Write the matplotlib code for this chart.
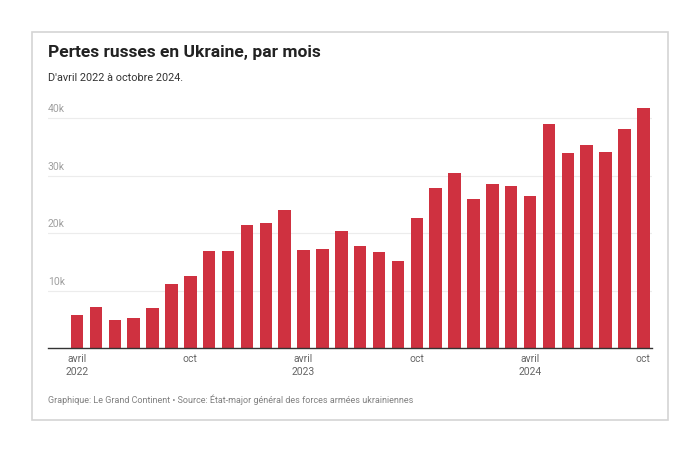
import numpy as np
import matplotlib

matplotlib.use("Agg")
import matplotlib.pyplot as plt
from matplotlib.patches import Rectangle

# Monthly Russian losses, April 2022 -> October 2024
months = [
    "2022-04", "2022-05", "2022-06", "2022-07", "2022-08", "2022-09",
    "2022-10", "2022-11", "2022-12", "2023-01", "2023-02", "2023-03",
    "2023-04", "2023-05", "2023-06", "2023-07", "2023-08", "2023-09",
    "2023-10", "2023-11", "2023-12", "2024-01", "2024-02", "2024-03",
    "2024-04", "2024-05", "2024-06", "2024-07", "2024-08", "2024-09",
    "2024-10",
]
losses = [
    5800, 7200, 5000, 5200, 7000, 11100,
    12600, 17000, 17000, 21500, 21700, 24000,
    17100, 17300, 20400, 17800, 16800, 15100,
    22700, 27900, 30400, 26000, 28500, 28300,
    26500, 39000, 33900, 35400, 34100, 38100,
    41800,
]
tick_idx = [0, 6, 12, 18, 24, 30]
tick_labels = ["avril\n2022", "oct", "avril\n2023", "oct", "avril\n2024", "oct"]
y_ticks = [10000, 20000, 30000, 40000]
y_labels = ["10k", "20k", "30k", "40k"]

W, H = 700, 450
fig = plt.figure(figsize=(7, 4.5), dpi=100)
fig.patch.set_facecolor("white")

# card behind the chart
card = Rectangle((32 / W, 1 - 420 / H), 636 / W, 388 / H,
                 transform=fig.transFigure, facecolor="white",
                 edgecolor="#d4d4d4", linewidth=1.2, zorder=-5)
fig.add_artist(card)

ax = fig.add_axes([48 / W, 1 - 348.3 / H, 604 / W, 247.3 / H])
ax.set_facecolor("none")

x = np.arange(len(losses))
ax.bar(x, losses, width=0.66, color="#cf3140", zorder=3)

ax.set_xlim(-1.54, 30.46)
ax.set_ylim(0, 43000)

for s in ["top", "right", "left"]:
    ax.spines[s].set_visible(False)
ax.spines["bottom"].set_color("#333333")
ax.spines["bottom"].set_linewidth(1.0)
ax.spines["bottom"].set_zorder(4)

ax.set_yticks(y_ticks)
ax.set_yticklabels([])
ax.tick_params(axis="y", length=0)
ax.grid(axis="y", color="#ececec", linewidth=0.8, zorder=0)
for v, lab in zip(y_ticks, y_labels):
    ax.text(0, v + 700, lab, transform=ax.get_yaxis_transform(),
            ha="left", va="bottom", fontsize=7.5, color="#a0a0a0",
            family="Roboto")

ax.set_xticks(tick_idx)
ax.set_xticklabels(tick_labels, fontsize=7.5, color="#666666",
                   family="Roboto", linespacing=1.4)
ax.tick_params(axis="x", length=0, pad=4)

fig.text(48 / W, 1 - 52 / H, "Pertes russes en Ukraine, par mois",
         fontsize=12.5, fontweight="bold", family="Roboto", color="#222222",
         va="center", ha="left")
fig.text(48 / W, 1 - 78 / H, "D'avril 2022 à octobre 2024.",
         fontsize=7.8, family="Roboto", color="#333333", va="center", ha="left")
fig.text(48 / W, 1 - 400 / H,
         "Graphique: Le Grand Continent • Source: État-major général des forces armées ukrainiennes",
         fontsize=6.5, family="Roboto", color="#808080", va="center", ha="left")

fig.savefig("out.png", dpi=100)
